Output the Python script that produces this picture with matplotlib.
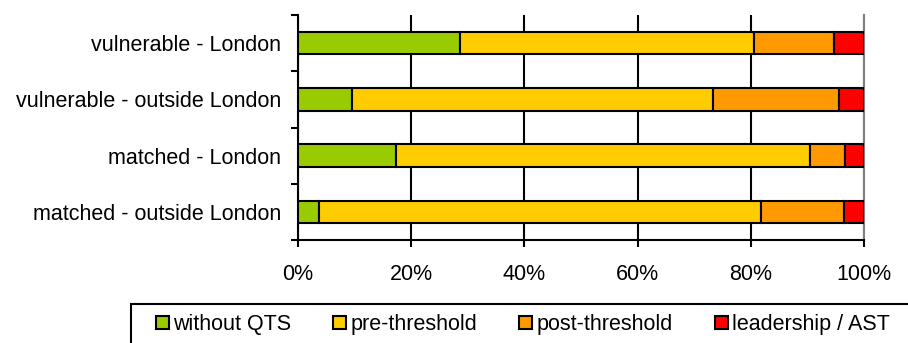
import numpy as np
import matplotlib
matplotlib.use('Agg')
import matplotlib.pyplot as plt
from matplotlib.patches import Patch, Rectangle

plt.rcParams['font.family'] = ['Liberation Sans', 'DejaVu Sans']

## data (shares of teachers, %)
groups = ['vulnerable - London', 'vulnerable - outside London',
          'matched - London', 'matched - outside London']
series = ['without QTS', 'pre-threshold', 'post-threshold', 'leadership / AST']
without_qts = [28.7, 9.6, 17.4, 3.7]
pre_threshold = [51.8, 63.7, 73.1, 78.1]
post_threshold = [14.2, 22.3, 6.1, 14.7]
leadership = [5.3, 4.4, 3.4, 3.5]
colors = ['#99CC00', '#FFCC00', '#FF9900', '#FF0000']

fs = 15.5
W, H = 908, 343

fig = plt.figure(figsize=(W/100, H/100), dpi=100)
ax = fig.add_axes([298/W, 1 - 240/H, 566/W, 225/H])

y = np.arange(len(groups))[::-1]
left = np.zeros(len(groups))
for vals, col in zip([without_qts, pre_threshold, post_threshold, leadership], colors):
    vals = np.array(vals)
    ax.barh(y, vals, left=left, height=0.4, color=col, edgecolor='black',
            linewidth=1.5, zorder=3)
    left += vals

ax.set_xlim(0, 100)
ax.set_ylim(-0.5, len(groups) - 0.5)
ax.set_xticks(np.arange(0, 101, 20))
ax.set_xticklabels(['%d%%' % v for v in range(0, 101, 20)], fontsize=fs)
ax.set_yticks(y)
ax.set_yticklabels(groups, fontsize=fs)
ax.tick_params(axis='y', length=0, pad=12)
ax.set_yticks(np.arange(-0.5, len(groups)), minor=True)
ax.tick_params(axis='y', which='minor', length=5, width=1.5, direction='out')
ax.tick_params(axis='x', length=5, width=1.5, direction='out', pad=12)
ax.xaxis.grid(True, color='black', linewidth=1.5, zorder=0)

ax.spines['top'].set_visible(False)
ax.spines['right'].set_color('#808080')
ax.spines['right'].set_linewidth(1.5)
ax.spines['left'].set_linewidth(1.5)
ax.spines['bottom'].set_linewidth(1.5)

# legend box runs off the bottom/right edge of the figure
fig.add_artist(Rectangle((131/W, -0.2), 1, 0.2 + 1 - 304/H, transform=fig.transFigure,
                         fill=False, edgecolor='black', linewidth=1.5, clip_on=False))

handles = [Patch(facecolor=c, edgecolor='black', linewidth=1.5) for c in colors]
leg = fig.legend(handles, series, ncol=4, loc='upper left',
                 bbox_to_anchor=(156/W, 1 - 314/H), fontsize=fs, frameon=False,
                 handlelength=0.6, handleheight=0.6, handletextpad=0.2,
                 columnspacing=1.95, borderaxespad=0, borderpad=0)

fig.savefig('out.png', dpi=100)
